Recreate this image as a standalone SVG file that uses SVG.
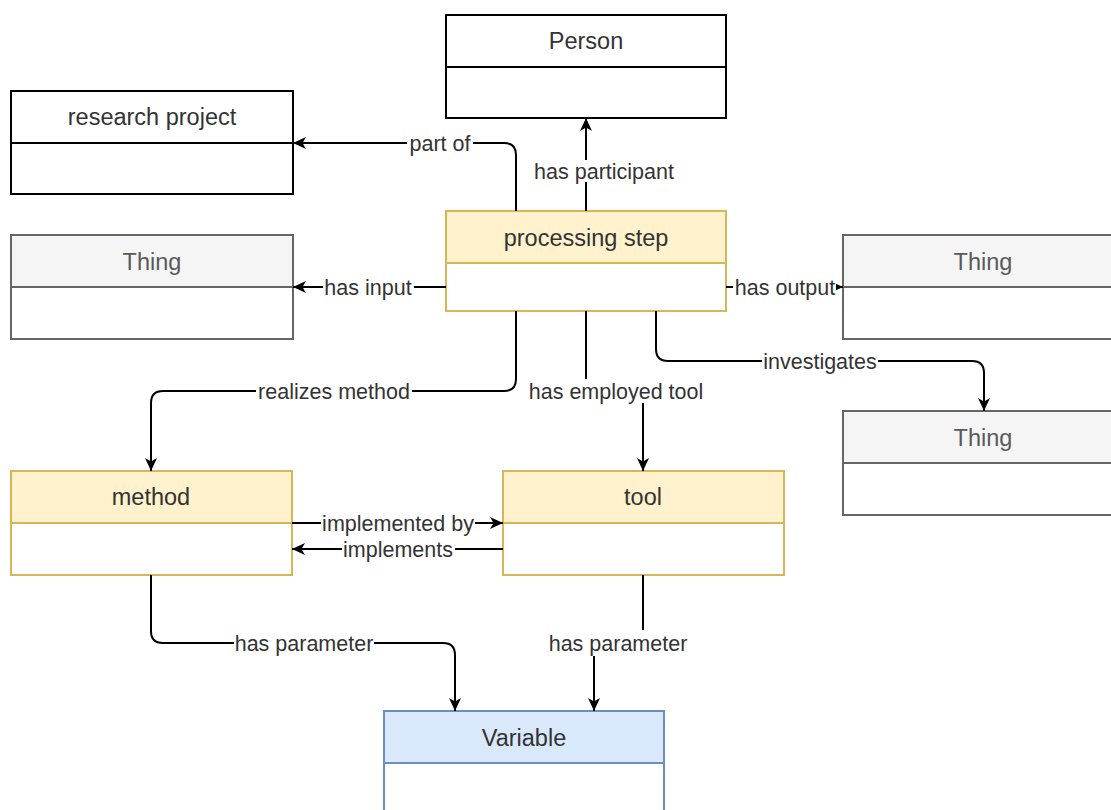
<svg xmlns="http://www.w3.org/2000/svg" width="1111" height="810" viewBox="0 0 1111 810">
<style>
.t{font-family:"Liberation Sans",Arial,sans-serif;font-size:23.5px;fill:#333;text-anchor:middle}
.tg{font-family:"Liberation Sans",Arial,sans-serif;font-size:23.5px;fill:#5a5a5a;text-anchor:middle}
.l{font-family:"Liberation Sans",Arial,sans-serif;font-size:21.5px;fill:#333;text-anchor:middle}
.lb{fill:#fff}
.e{fill:none;stroke:#000;stroke-width:2}
.blk{stroke:#000;stroke-width:2}
.gry{stroke:#666;stroke-width:2}
.yel{stroke:#d6b656;stroke-width:2}
.blu{stroke:#6c8ebf;stroke-width:2}
</style>
<defs>
<marker id="a" markerWidth="14" markerHeight="14" refX="13" refY="7" orient="auto" markerUnits="userSpaceOnUse">
<path d="M0,1 L13,7 L0,13 L3.5,7 Z" fill="#000"/>
</marker>
</defs>
<g id="person">
<rect x="446" y="15" width="280" height="103" fill="#fff" class="blk"/>
<line x1="446" y1="67" x2="726" y2="67" class="blk"/>
<text x="586" y="49" class="t">Person</text>
</g>
<g id="research-project">
<rect x="11" y="91" width="282" height="103" fill="#fff" class="blk"/>
<line x1="11" y1="143" x2="293" y2="143" class="blk"/>
<text x="152" y="125" class="t">research project</text>
</g>
<g id="thing-input">
<rect x="11" y="235" width="282" height="104" fill="#fff" class="gry"/>
<rect x="12" y="236" width="280" height="51" fill="#f5f5f5"/>
<line x1="11" y1="287" x2="293" y2="287" class="gry"/>
<text x="152" y="270" class="tg">Thing</text>
</g>
<g id="processing-step">
<rect x="446" y="211" width="280" height="100" fill="#fff" class="yel"/>
<rect x="447" y="212" width="278" height="51" fill="#fff2cc"/>
<line x1="446" y1="263" x2="726" y2="263" class="yel"/>
<text x="586" y="246" class="t">processing step</text>
</g>
<g id="thing-output">
<rect x="843" y="235" width="280" height="104" fill="#fff" class="gry"/>
<rect x="844" y="236" width="278" height="51" fill="#f5f5f5"/>
<line x1="843" y1="287" x2="1123" y2="287" class="gry"/>
<text x="983" y="270" class="tg">Thing</text>
</g>
<g id="thing-investigated">
<rect x="843" y="411" width="280" height="104" fill="#fff" class="gry"/>
<rect x="844" y="412" width="278" height="51" fill="#f5f5f5"/>
<line x1="843" y1="463" x2="1123" y2="463" class="gry"/>
<text x="983" y="446" class="tg">Thing</text>
</g>
<g id="method">
<rect x="11" y="471" width="281" height="104" fill="#fff" class="yel"/>
<rect x="12" y="472" width="279" height="51" fill="#fff2cc"/>
<line x1="11" y1="523" x2="292" y2="523" class="yel"/>
<text x="151" y="505" class="t">method</text>
</g>
<g id="tool">
<rect x="503" y="471" width="281" height="104" fill="#fff" class="yel"/>
<rect x="504" y="472" width="279" height="51" fill="#fff2cc"/>
<line x1="503" y1="523" x2="784" y2="523" class="yel"/>
<text x="643" y="505" class="t">tool</text>
</g>
<g id="variable">
<rect x="384" y="711" width="280" height="110" fill="#fff" class="blu"/>
<rect x="385" y="712" width="278" height="51" fill="#dae8fc"/>
<line x1="384" y1="763" x2="664" y2="763" class="blu"/>
<text x="524" y="746" class="t">Variable</text>
</g>
<g id="connectors">
<path class="e" d="M516,211 V155 Q516,143 504,143 H293" marker-end="url(#a)"/>
<path class="e" d="M586,211 V118" marker-end="url(#a)"/>
<path class="e" d="M446,287 H293" marker-end="url(#a)"/>
<path class="e" d="M726,287 H843" marker-end="url(#a)"/>
<path class="e" d="M656,311 V349 Q656,361 668,361 H972 Q984,361 984,373 V411" marker-end="url(#a)"/>
<path class="e" d="M516,311 V379 Q516,391 504,391 H163 Q151,391 151,403 V471" marker-end="url(#a)"/>
<path class="e" d="M586,311 V391 H643 V471" marker-end="url(#a)"/>
<path class="e" d="M292,523 H503" marker-end="url(#a)"/>
<path class="e" d="M503,549 H292" marker-end="url(#a)"/>
<path class="e" d="M151,575 V631 Q151,643 163,643 H443 Q455,643 455,655 V711" marker-end="url(#a)"/>
<path class="e" d="M643,575 V643 H594 V711" marker-end="url(#a)"/>
<g id="labels">
<rect class="lb" x="407" y="132" width="66" height="22"/>
<text class="l" x="440" y="150.5">part of</text>
<rect class="lb" x="532" y="160" width="145" height="22"/>
<text class="l" x="604" y="178.5">has participant</text>
<rect class="lb" x="323" y="276" width="91" height="22"/>
<text class="l" x="368" y="294.5">has input</text>
<rect class="lb" x="733" y="276" width="103" height="22"/>
<text class="l" x="785" y="294.5">has output</text>
<rect class="lb" x="762" y="350" width="116" height="22"/>
<text class="l" x="820" y="368.5">investigates</text>
<rect class="lb" x="256" y="380" width="156" height="22"/>
<text class="l" x="334" y="398.5">realizes method</text>
<rect class="lb" x="527" y="379" width="179" height="24"/>
<text class="l" x="616" y="398.5">has employed tool</text>
<rect class="lb" x="321" y="512" width="154" height="22"/>
<text class="l" x="398" y="530.5">implemented by</text>
<rect class="lb" x="342" y="538" width="113" height="22"/>
<text class="l" x="398" y="556.5">implements</text>
<rect class="lb" x="234" y="632" width="140" height="22"/>
<text class="l" x="304" y="650.5">has parameter</text>
<rect class="lb" x="547" y="630" width="142" height="26"/>
<text class="l" x="618" y="650.5">has parameter</text>
</g>
</g>
</svg>
